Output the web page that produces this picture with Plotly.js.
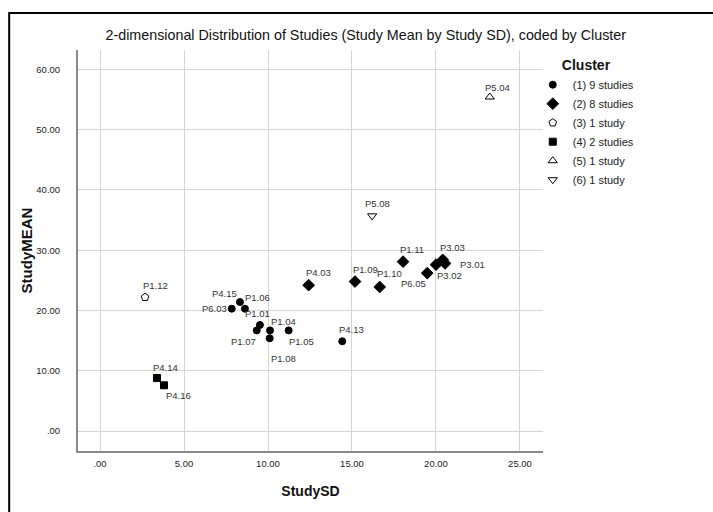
<!DOCTYPE html>
<html>
<head>
<meta charset="utf-8">
<script src="https://cdn.plot.ly/plotly-3.0.1.min.js"></script>
<style>html,body{margin:0;padding:0;background:#fff;}#chart{width:713px;height:512px;}</style>
</head>
<body>
<div id="chart"></div>
<script>
// ---- data ----
const clusterNames = ["(1) 9 studies", "(2) 8 studies", "(3) 1 study", "(4) 2 studies", "(5) 1 study", "(6) 1 study"];

const c1Labels = ["P4.15", "P6.03", "P1.06", "P1.01", "P1.07", "P1.04", "P1.08", "P1.05", "P4.13"];
const c1SD     = [8.33, 7.84, 8.63, 9.52, 9.33, 10.12, 10.10, 11.23, 14.42];
const c1Mean   = [21.4, 20.3, 20.3, 17.6, 16.7, 16.7, 15.4, 16.7, 14.9];

const c2Labels = ["P4.03", "P1.09", "P1.10", "P1.11", "P6.05", "P3.02", "P3.03", "P3.01"];
const c2SD     = [12.42, 15.18, 16.65, 18.04, 19.48, 20.00, 20.40, 20.54];
const c2Mean   = [24.2, 24.8, 23.9, 28.1, 26.2, 27.6, 28.4, 27.8];

const c3Labels = ["P1.12"];
const c3SD     = [2.68];
const c3Mean   = [22.2];

const c4Labels = ["P4.14", "P4.16"];
const c4SD     = [3.39, 3.81];
const c4Mean   = [8.8, 7.6];

const c5Labels = ["P5.04"];
const c5SD     = [23.2];
const c5Mean   = [55.4];

const c6Labels = ["P5.08"];
const c6SD     = [16.2];
const c6Mean   = [35.7];

const xTickVals = [0, 5, 10, 15, 20, 25];
const xTickText = [".00", "5.00", "10.00", "15.00", "20.00", "25.00"];
const yTickVals = [0, 10, 20, 30, 40, 50, 60];
const yTickText = [".00", "10.00", "20.00", "30.00", "40.00", "50.00", "60.00"];

// ---- label placement (pixel offsets of each label from its point: [dx, dy up]) ----
const c1Off = [[-15, 9], [-17, 0], [13, 11], [-2, 11], [-13, -11], [13, 9], [14, -20], [13, -11], [9, 12]];
const c2Off = [[10, 13], [10, 12], [10, 13], [9, 12], [-14, -10], [14, -11], [10, 12], [27, -1]];
const c3Off = [[10, 12]];
const c4Off = [[9, 11], [14, -10]];
const c5Off = [[8, 10]];
const c6Off = [[5, 12]];

// ---- styling ----
const FONT = "'Liberation Sans', Arial, sans-serif";
const labelFont = {family: FONT, size: 9.5, color: "#333"};

function mk(x, y, labels, name, symbol, size) {
  return {
    type: "scatter", mode: "markers", x: x, y: y, text: labels, name: name,
    cliponaxis: false,
    marker: {symbol: symbol, size: size, color: "#000", line: {color: "#000", width: 1}},
    hoverinfo: "x+y+text"
  };
}

function labels(x, y, txt, off) {
  return txt.map((t, i) => ({
    x: x[i], y: y[i], xref: "x", yref: "y", text: t, showarrow: false,
    xanchor: "center", yanchor: "middle", xshift: off[i][0], yshift: off[i][1],
    font: labelFont
  }));
}

const traces = [
  mk(c1SD, c1Mean, c1Labels, clusterNames[0], "circle", 7),
  mk(c2SD, c2Mean, c2Labels, clusterNames[1], "diamond", 9),
  mk(c3SD, c3Mean, c3Labels, clusterNames[2], "pentagon-open", 8),
  mk(c4SD, c4Mean, c4Labels, clusterNames[3], "square", 7),
  mk(c5SD, c5Mean, c5Labels, clusterNames[4], "triangle-up-open", 8),
  mk(c6SD, c6Mean, c6Labels, clusterNames[5], "triangle-down-open", 8)
];

const annotations = [].concat(
  labels(c1SD, c1Mean, c1Labels, c1Off),
  labels(c2SD, c2Mean, c2Labels, c2Off),
  labels(c3SD, c3Mean, c3Labels, c3Off),
  labels(c4SD, c4Mean, c4Labels, c4Off),
  labels(c5SD, c5Mean, c5Labels, c5Off),
  labels(c6SD, c6Mean, c6Labels, c6Off)
);

const layout = {
  width: 713, height: 512,
  paper_bgcolor: "#fff", plot_bgcolor: "#fff",
  margin: {l: 78, r: 170, t: 50, b: 61},
  font: {family: FONT, color: "#222"},
  title: {
    text: "2-dimensional Distribution of Studies (Study Mean by Study SD), coded by Cluster",
    font: {family: FONT, size: 14.3, color: "#111"},
    x: 0.513, xref: "container", xanchor: "center",
    y: 0.932, yref: "container", yanchor: "middle"
  },
  xaxis: {
    range: [-1.31, 26.37],
    tickvals: xTickVals, ticktext: xTickText,
    tickfont: {family: FONT, size: 9.5, color: "#222"},
    showgrid: true, gridcolor: "#d4d4d4", gridwidth: 1,
    zeroline: false, showline: true, linecolor: "#8a8a8a", linewidth: 2,
    ticks: "", ticklabelstandoff: 3,
    title: {text: "<b>StudySD</b>", font: {family: FONT, size: 14, color: "#111"}, standoff: 18}
  },
  yaxis: {
    range: [-3.3, 63.2],
    tickvals: yTickVals, ticktext: yTickText,
    tickfont: {family: FONT, size: 9.5, color: "#222"},
    showgrid: true, gridcolor: "#d4d4d4", gridwidth: 1,
    zeroline: false, showline: true, linecolor: "#8a8a8a", linewidth: 2,
    ticks: "", ticklabelstandoff: 14,
    title: {text: "<b>StudyMEAN</b>", font: {family: FONT, size: 15, color: "#111"}, standoff: 0}
  },
  showlegend: true,
  legend: {
    x: 0.978, xanchor: "left", y: 0.995, yanchor: "top",
    bgcolor: "rgba(0,0,0,0)", borderwidth: 0,
    font: {family: FONT, size: 11, color: "#222"},
    title: {text: "<b>Cluster</b>", side: "top center", font: {family: FONT, size: 14, color: "#111"}},
    itemwidth: 30, tracegroupgap: 0
  },
  annotations: annotations,
  shapes: [
    {type: "rect", xref: "paper", yref: "paper", x0: -0.148, x1: 1.6, y0: -0.5, y1: 1.092,
     line: {color: "#000", width: 2}, fillcolor: "rgba(0,0,0,0)", layer: "above"}
  ]
};

Plotly.newPlot("chart", traces, layout, {staticPlot: true, displayModeBar: false});
</script>
</body>
</html>
